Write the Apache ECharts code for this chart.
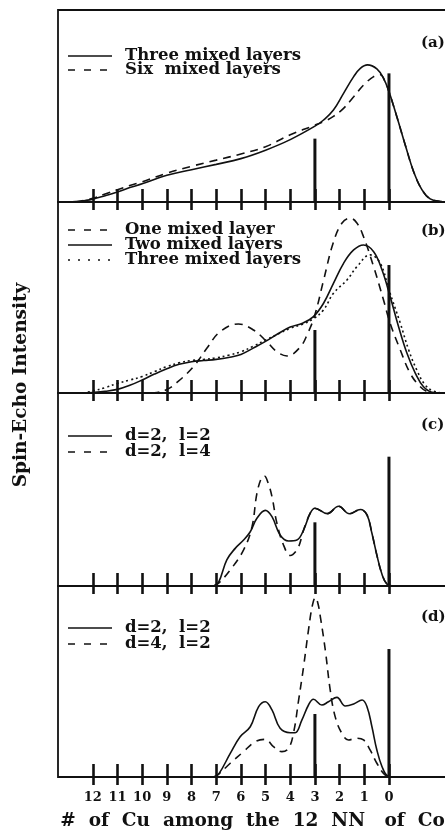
<!DOCTYPE html>
<html>
<head>
<meta charset="utf-8">
<script src="https://cdn.jsdelivr.net/npm/echarts@6/dist/echarts.min.js"></script>
<style>
  html, body { margin: 0; padding: 0; background: #fff; }
  #chart { width: 445px; height: 832px; }
</style>
</head>
<body>
<div id="chart"></div>
<script>
// tick positions / labels along the shared x axis (# of Cu neighbours)
var xTicks = [0, 1, 2, 3, 4, 5, 6, 7, 8, 9, 10, 11, 12];
// the two spikes (bulk-like lines) drawn in every panel
var spikes = [[3, 33], [0, 67]];

// (a)
var aThree = [[13.0,0],[12.7,0.2],[12.3,0.8],[12.0,1.5],[11.5,3.3],[11.0,5.2],[10.5,7.5],[10.0,9.5],[9.0,13.9],[8.0,16.8],[7.0,19.6],[6.0,22.6],[5.0,27.0],[4.0,32.5],[3.0,39.5],[2.65,42.7],[2.25,47.9],[1.84,56.6],[1.43,65.3],[1.16,69.6],[0.87,71.4],[0.49,69.3],[0.22,64.4],[0.0,57.5],[-0.32,44.4],[-0.66,29.7],[-1.0,15.8],[-1.34,6.3],[-1.67,1.6],[-2.08,0.3],[-2.5,0],[-3,0]];
var aSix = [[12.7,0],[12.3,1.0],[12.0,1.9],[11.5,4.2],[11.0,6.4],[10.5,8.6],[10.0,10.5],[9.0,15.0],[8.0,18.6],[7.0,21.8],[6.0,25.0],[5.0,28.8],[4.0,35.0],[3.0,40.0],[2.65,41.8],[2.25,44.6],[1.84,48.8],[1.43,54.8],[1.03,60.9],[0.62,65.3],[0.35,66.3],[0.15,62.5],[0.0,57.5],[-0.32,44.4],[-0.66,29.7],[-1.0,15.8],[-1.34,6.3],[-1.67,1.6],[-2.08,0.3],[-2.5,0]];

// (b)
var bOne = [[10.2,0],[9.4,0.3],[9.0,1.8],[8.6,5.4],[7.92,13.8],[7.38,23.4],[6.84,32.1],[6.1,36.1],[5.49,33.0],[4.95,26.9],[4.54,21.6],[4.13,19.4],[3.6,24.0],[3.3,31.0],[3.0,41.0],[2.65,59.0],[2.25,79.0],[1.9,89.0],[1.57,91.5],[1.3,89.0],[1.03,81.8],[0.62,66.1],[0.22,48.7],[-0.05,36.5],[-0.46,22.5],[-0.86,10.3],[-1.27,3.3],[-1.6,0.5],[-2.0,0],[-3,0]];
var bTwo = [[12.4,0],[12.0,0.3],[11.5,0.9],[11.0,1.9],[10.5,4.0],[10.0,6.8],[9.5,9.9],[9.0,12.7],[8.5,15.0],[8.0,16.4],[7.5,17.0],[7.0,17.6],[6.5,18.6],[6.0,20.2],[5.5,23.5],[5.0,27.0],[4.5,31.0],[4.0,34.5],[3.5,36.5],[3.06,40.0],[2.65,47.0],[2.25,57.4],[1.84,67.9],[1.43,74.9],[1.03,77.5],[0.62,74.0],[0.28,64.4],[-0.05,50.4],[-0.39,34.7],[-0.73,20.8],[-1.07,10.3],[-1.4,3.3],[-1.8,0.3],[-2.3,0],[-3,0]];
var bThree = [[12.4,0],[12.0,1.0],[11.5,2.8],[11.0,5.0],[10.5,6.8],[10.0,8.6],[9.5,11.2],[9.0,13.8],[8.5,15.8],[8.0,17.0],[7.5,17.6],[7.0,18.4],[6.5,19.8],[6.0,21.6],[5.5,24.5],[5.0,27.7],[4.5,30.8],[4.0,33.9],[3.5,36.0],[3.06,38.9],[2.65,43.5],[2.25,52.2],[1.7,59.2],[1.3,66.1],[0.76,72.3],[0.35,67.9],[0.0,54.0],[-0.46,36.5],[-0.8,22.5],[-1.13,12.0],[-1.45,4.5],[-1.8,1.0],[-2.3,0],[-3,0]];

// (c)
var cD2L2 = [[7.1,0],[6.9,2.0],[6.57,13.5],[6.23,19.5],[5.89,23.8],[5.62,28.1],[5.35,35.1],[5.01,39.2],[4.74,35.9],[4.41,26.4],[4.07,23.3],[3.73,23.8],[3.46,29.0],[3.19,37.7],[3.0,40.3],[2.5,37.5],[2.04,41.3],[1.6,37.4],[1.16,39.6],[0.89,36.8],[0.69,27.3],[0.49,16.0],[0.28,6.0],[0.08,1.0],[-0.2,0],[-3,0]];
var cD2L4 = [[7.1,0],[6.9,1.5],[6.43,8.3],[5.89,18.7],[5.55,30.7],[5.35,48.0],[5.15,56.5],[5.05,57.0],[4.9,53.5],[4.74,46.3],[4.54,32.5],[4.27,21.2],[4.0,15.8],[3.73,18.7],[3.53,25.5],[3.46,29.0],[3.19,37.7],[3.0,40.3],[2.5,37.5],[2.04,41.3],[1.6,37.4],[1.16,39.6],[0.89,36.8],[0.69,27.3],[0.49,16.0],[0.28,6.0],[0.08,1.0],[-0.2,0]];

// (d)
var dD2L2 = [[7.1,0],[6.9,1.5],[6.43,12.4],[6.03,21.1],[5.62,26.3],[5.28,36.8],[5.01,39.4],[4.74,35.1],[4.41,25.5],[4.0,23.2],[3.8,23.2],[3.53,29.8],[3.26,37.7],[3.06,40.7],[2.72,37.7],[2.45,39.4],[2.11,41.7],[1.77,37.2],[1.43,38.2],[1.09,40.3],[0.89,36.8],[0.69,26.3],[0.49,14.1],[0.28,5.4],[0.05,0.5],[-0.2,0],[-3,0]];
var dD4L2 = [[7.1,0],[6.9,1.5],[6.43,7.2],[5.89,13.3],[5.42,18.5],[5.01,19.7],[4.68,15.9],[4.34,13.3],[4.07,15.0],[3.87,22.9],[3.66,40.3],[3.46,57.7],[3.26,77.0],[3.1,90.0],[2.98,94.0],[2.88,91.0],[2.78,83.9],[2.58,66.5],[2.38,45.5],[2.18,31.6],[1.91,22.9],[1.64,19.4],[1.3,20.3],[1.03,19.4],[0.76,14.1],[0.49,7.2],[0.22,1.9],[0,0]];

var panels = [
  { tag: '(a)', top: 10, height: 192, curves: [
      { name: 'Three mixed layers', data: aThree, dash: 'solid' },
      { name: 'Six  mixed layers', data: aSix, dash: 'dashed' }] },
  { tag: '(b)', top: 202, height: 191, curves: [
      { name: 'One mixed layer', data: bOne, dash: 'dashed' },
      { name: 'Two mixed layers', data: bTwo, dash: 'solid' },
      { name: 'Three mixed layers', data: bThree, dash: 'dotted' }] },
  { tag: '(c)', top: 393, height: 193, curves: [
      { name: 'd=2,  l=2', data: cD2L2, dash: 'solid' },
      { name: 'd=2,  l=4', data: cD2L4, dash: 'dashed' }] },
  { tag: '(d)', top: 586, height: 191, curves: [
      { name: 'd=2,  l=2', data: dD2L2, dash: 'solid' },
      { name: 'd=4,  l=2', data: dD4L2, dash: 'dashed' }] }
];
var legendY = [[56, 70], [230, 245, 260], [436, 452], [628, 644]];
var tagY = [43, 231, 425, 617];

var ink = '#111';
var serif = 'DejaVu Serif';
var dashes = { solid: 'solid', dashed: [8, 6], dotted: [2, 3] };
var legendDashes = { solid: null, dashed: [7, 9], dotted: [2, 8] };

var chart = echarts.init(document.getElementById('chart'));

var grid = [], xAxis = [], yAxis = [], series = [], graphic = [];

panels.forEach(function (p, i) {
  var last = i === panels.length - 1;
  grid.push({ left: 58, top: p.top, width: 405, height: p.height, outerBoundsMode: 'none',
              show: true, borderColor: ink, borderWidth: 1.8, backgroundColor: 'transparent' });
  var base = { gridIndex: i, type: 'value', position: 'bottom', min: -3, max: 13.41, inverse: true,
               axisLine: { show: false }, splitLine: { show: false } };
  // ticks pointing up into the panel
  xAxis.push(Object.assign({}, base, {
    axisTick: { show: true, inside: true, length: 13, customValues: xTicks,
                lineStyle: { color: ink, width: 2.6 } },
    axisLabel: { show: false }
  }));
  // short tick stubs below the baseline (+ labels on the bottom panel)
  xAxis.push(Object.assign({}, base, {
    axisTick: { show: true, inside: false, length: 8, customValues: xTicks,
                lineStyle: { color: ink, width: 2.6 } },
    axisLabel: { show: last, customValues: xTicks, margin: 14, color: ink,
                 fontFamily: serif, fontWeight: 'bold', fontSize: 13 },
    name: last ? '#  of  Cu  among  the  12  NN   of  Co' : '',
    nameLocation: 'middle', nameGap: 35,
    nameTextStyle: { color: ink, fontFamily: serif, fontWeight: 'bold', fontSize: 18.5,
                     padding: [0, 16, 0, 0] }
  }));
  yAxis.push({ gridIndex: i, type: 'value', min: 0, max: 100, show: false });

  series.push({ type: 'bar', xAxisIndex: 2 * i, yAxisIndex: i, data: spikes,
                barWidth: 3, itemStyle: { color: ink }, z: 2, silent: true });
  p.curves.forEach(function (c, k) {
    series.push({ type: 'line', name: c.name, xAxisIndex: 2 * i, yAxisIndex: i,
                  data: c.data, smooth: 0.4, showSymbol: false, z: 3, silent: true,
                  lineStyle: { color: ink, width: 1.6, type: dashes[c.dash] } });
    var ly = legendY[i][k];
    graphic.push({ type: 'line', shape: { x1: 68, y1: ly, x2: 112, y2: ly },
                   style: { stroke: ink, lineWidth: 1.6, lineDash: legendDashes[c.dash] } });
    graphic.push({ type: 'text', x: 125, y: ly,
                   style: { text: c.name, fill: ink, fontFamily: serif, fontWeight: 'bold',
                            fontSize: 16.5, verticalAlign: 'middle' } });
  });
  graphic.push({ type: 'text', x: 421, y: tagY[i],
                 style: { text: p.tag, fill: ink, fontFamily: serif, fontWeight: 'bold',
                          fontSize: 15, verticalAlign: 'middle' } });
});

graphic.push({ type: 'text', x: 21, y: 385, rotation: Math.PI / 2,
               style: { text: 'Spin-Echo Intensity', fill: ink, fontFamily: serif,
                        fontWeight: 'bold', fontSize: 18.5, align: 'center', verticalAlign: 'middle' } });

chart.setOption({
  animation: false,
  backgroundColor: '#fff',
  grid: grid,
  xAxis: xAxis,
  yAxis: yAxis,
  series: series,
  graphic: graphic
});
</script>
</body>
</html>
